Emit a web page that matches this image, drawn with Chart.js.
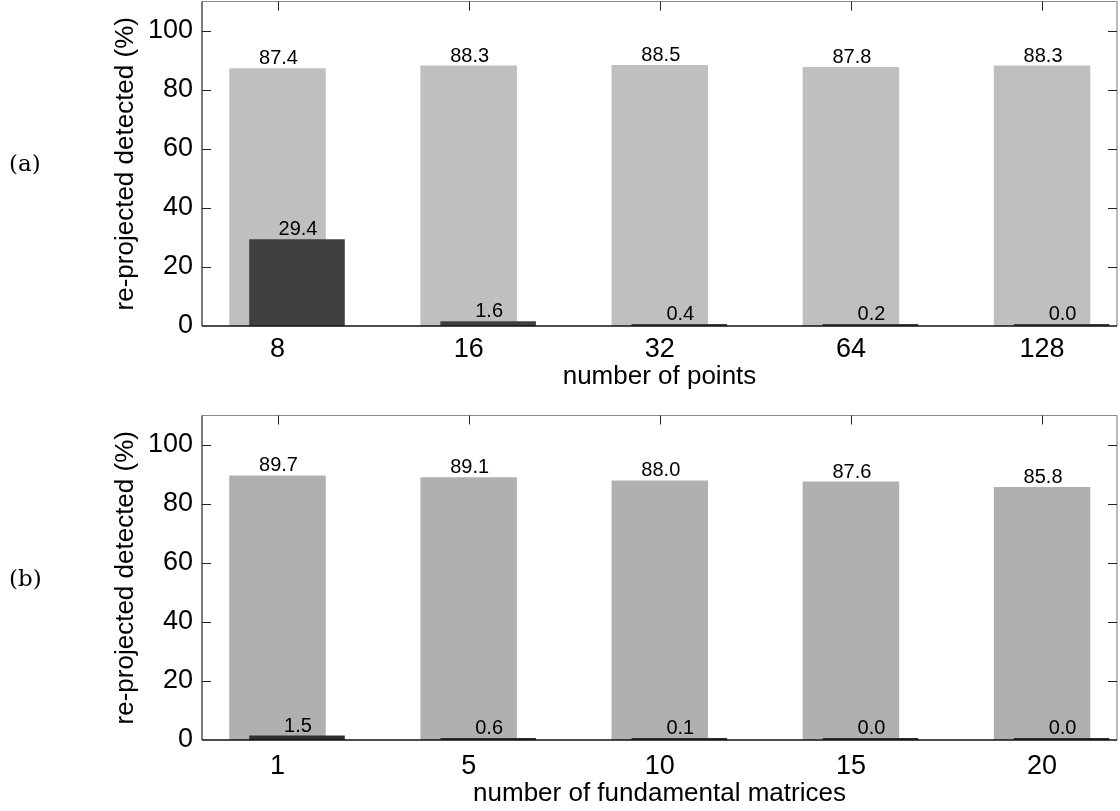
<!DOCTYPE html>
<html><head><meta charset="utf-8">
<script src="https://cdn.jsdelivr.net/npm/chart.js@4.4.1/dist/chart.umd.min.js"></script>
<style>
html,body{margin:0;padding:0;background:#fff;}
#wrap{position:relative;width:1120px;height:811px;overflow:hidden;background:#fff;}
.box{position:absolute;left:0;}
.tag{position:absolute;left:9px;font-family:"DejaVu Serif","Liberation Serif",serif;font-size:23px;color:#000;line-height:26px;}
</style></head><body>
<div id="wrap">
  <div class="box" style="top:0;width:1120px;height:400px"><canvas id="ca" width="1120" height="400"></canvas></div>
  <div class="box" style="top:400px;width:1120px;height:411px"><canvas id="cb" width="1120" height="411"></canvas></div>
  <div class="tag" style="top:150px">(a)</div>
  <div class="tag" style="top:565px">(b)</div>
</div>
<script>
// ---- data ----
const pointLabels = ['8', '16', '32', '64', '128'];
const pointsAll = [87.4, 88.3, 88.5, 87.8, 88.3];
const pointsReproj = [29.4, 1.6, 0.4, 0.2, 0.0];

const matrixLabels = ['1', '5', '10', '15', '20'];
const matricesAll = [89.7, 89.1, 88.0, 87.6, 85.8];
const matricesReproj = [1.5, 0.6, 0.1, 0.0, 0.0];

const yTickValues = [0, 20, 40, 60, 80, 100];
const yTitle = 're-projected detected (%)';
const xTitleA = 'number of points';
const xTitleB = 'number of fundamental matrices';

// ---- drawing ----
const FONT = '"Liberation Sans", Arial, Helvetica, sans-serif';
const X_MIN = 0.605, X_MAX = 5.392, DARK_SHIFT = 0.102;

const decor = {
  id: 'decor',
  afterDatasetsDraw(chart) {
    const ctx = chart.ctx;
    const {left, right, top, bottom} = chart.chartArea;
    const xs = chart.scales.x, ys = chart.scales.y;
    ctx.save();
    // value labels
    ctx.font = '20px ' + FONT;
    ctx.fillStyle = '#000';
    ctx.textAlign = 'center';
    ctx.textBaseline = 'alphabetic';
    chart.data.datasets.forEach((ds, i) => {
      chart.getDatasetMeta(i).data.forEach((el, j) => {
        const v = ds.data[j].y;
        ctx.fillText(v.toFixed(1), el.x + 1, Math.min(el.y, el.base) - 4);
      });
    });
    const line = (x1, y1, x2, y2) => { ctx.beginPath(); ctx.moveTo(x1, y1); ctx.lineTo(x2, y2); ctx.stroke(); };
    // frame
    ctx.lineWidth = 1.2;
    ctx.strokeStyle = '#8a8a8a';
    line(left, top, right, top);
    line(right, top, right, bottom);
    ctx.strokeStyle = '#222';
    line(left, top, left, bottom);
    ctx.lineWidth = 1.6;
    ctx.strokeStyle = '#111';
    line(left, bottom, right, bottom);
    // inward tick marks
    ctx.lineWidth = 1;
    ctx.strokeStyle = '#222';
    ys.ticks.forEach(t => {
      const py = Math.round(ys.getPixelForValue(t.value)) + 0.5;
      if (t.value > 0) { line(left, py, left + 9, py); line(right - 9, py, right, py); }
    });
    xs.ticks.forEach(t => {
      const px = Math.round(xs.getPixelForValue(t.value)) + 0.5;
      line(px, top, px, top + 9);
    });
    ctx.restore();
  }
};

const noPad = s => { s.paddingTop = 0; s.paddingBottom = 0; s.paddingLeft = 0; s.paddingRight = 0; };

function makeChart(id, labels, allVals, reprojVals, light, dark, xTitle, geo) {
  const toPts = arr => arr.map((v, i) => ({x: i + 1, y: v}));
  const catTicks = s => { s.ticks = labels.map((l, i) => ({value: i + 1})); };
  return new Chart(document.getElementById(id), {
    type: 'bar',
    data: {
      datasets: [
        {data: toPts(allVals), backgroundColor: light, xAxisID: 'x', grouped: false, order: 1,
         categoryPercentage: 1, barPercentage: 0.505, borderWidth: 0},
        {data: toPts(reprojVals), backgroundColor: dark, xAxisID: 'x2', grouped: false, order: 0,
         categoryPercentage: 1, barPercentage: 0.5, borderWidth: 0, minBarLength: 2}
      ]
    },
    options: {
      responsive: false,
      animation: false,
      events: [],
      layout: {padding: {left: 110, right: 3, top: geo.top, bottom: 0}},
      plugins: {legend: {display: false}, tooltip: {enabled: false}},
      scales: {
        x: {
          type: 'linear', position: 'bottom', min: X_MIN, max: X_MAX, offset: false,
          grid: {display: false, drawTicks: false}, border: {display: false},
          afterBuildTicks: catTicks,
          afterFit: s => { s.height = geo.xh; noPad(s); },
          ticks: {color: '#000', font: {size: 27, family: FONT}, padding: geo.tickPad,
                  autoSkip: false, maxRotation: 0,
                  callback: v => labels[Math.round(v) - 1]},
          title: {display: true, text: xTitle, color: '#000', font: {size: 26, family: FONT},
                  padding: {top: 0, bottom: geo.titlePad}}
        },
        x2: {
          type: 'linear', position: 'top', display: true,
          min: X_MIN - DARK_SHIFT, max: X_MAX - DARK_SHIFT, offset: false,
          grid: {display: false, drawTicks: false}, border: {display: false},
          ticks: {display: false}, title: {display: false},
          afterBuildTicks: catTicks,
          afterFit: s => { s.height = 0; noPad(s); }
        },
        y: {
          min: 0, max: 110,
          grid: {display: false, drawTicks: false}, border: {display: false},
          afterFit: s => { s.width = 92; noPad(s); },
          afterBuildTicks: s => { s.ticks = yTickValues.map(v => ({value: v})); },
          ticks: {color: '#000', font: {size: 27, family: FONT}, padding: 9},
          title: {display: true, text: yTitle, color: '#000', font: {size: 26, family: FONT}, padding: 0}
        }
      }
    },
    plugins: [decor]
  });
}

makeChart('ca', pointLabels, pointsAll, pointsReproj, '#bfbfbf', '#404040', xTitleA,
  {top: 1.5, xh: 74, tickPad: 7, titlePad: 8});
makeChart('cb', matrixLabels, matricesAll, matricesReproj, '#b0b0b0', '#303030', xTitleB,
  {top: 15.5, xh: 71, tickPad: 10, titlePad: 2});
</script>
</body></html>
